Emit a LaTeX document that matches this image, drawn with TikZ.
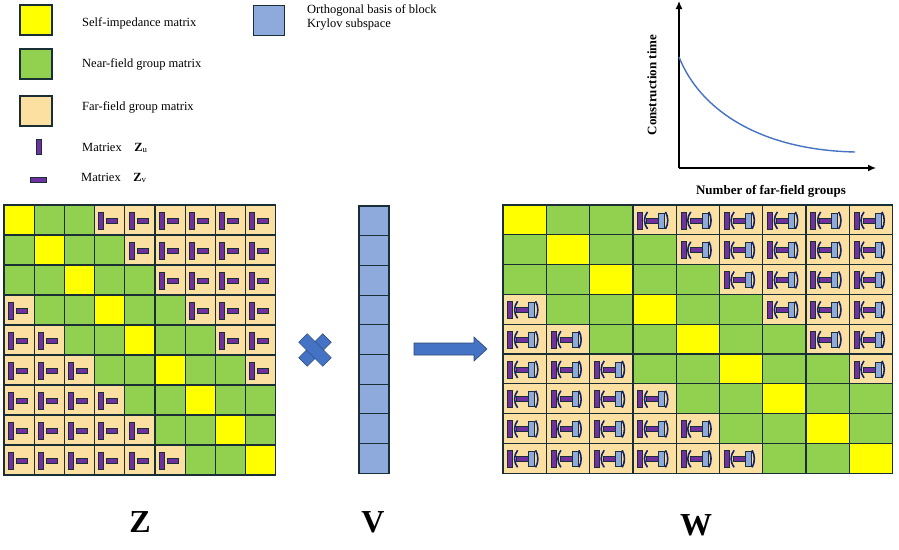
\documentclass[tikz,border=0pt]{standalone}
\usepackage{fontspec}
\setmainfont{Liberation Serif}
\usetikzlibrary{arrows.meta}
\begin{document}
\definecolor{selfc}{HTML}{FFFF00}
\definecolor{nearc}{HTML}{92D050}
\definecolor{farc}{HTML}{FBE0A2}
\definecolor{purp}{HTML}{7030A0}
\definecolor{lblue}{HTML}{8EA9DB}
\definecolor{dblue}{HTML}{4472C4}
\definecolor{edge}{HTML}{1A2E35}
\begin{tikzpicture}[x=1pt,y=-1pt,
  cell/.style={draw=edge,line width=1.3pt},
  bar/.style={fill=purp,draw=edge,line width=0.5pt},
  lbl/.style={font=\fontsize{12.5}{14}\selectfont,anchor=west,inner sep=0pt},
  big/.style={font=\fontsize{32}{34}\selectfont\bfseries},
  par/.style={draw=edge!70!blue,line width=1.6pt},
  pics/zicon/.style={code={
    \fill[bar] (-11,-8) rectangle (-6,9);
    \fill[bar] (-3,-2) rectangle (8,3);}},
  pics/wicon/.style={code={
    \fill[bar] (-17,-8) rectangle (-12,9);
    \draw[par] (-7,-8) .. controls (-11,-3) and (-11,4) .. (-7,9);
    \fill[bar] (-8,-2) rectangle (4,3);
    \fill[lblue,draw=edge,line width=0.5pt] (4,-7) rectangle (10,8);
    \draw[par] (11,-8) .. controls (14,-3) and (14,4) .. (11,9);}}]
\useasboundingbox (0,0) rectangle (899,549);
% legend
\fill[cell,fill=selfc] (20,5) rectangle (52,35);
\fill[cell,fill=nearc] (20,49) rectangle (52,79);
\fill[cell,fill=farc] (20,96) rectangle (52,126);
\fill[bar] (36,139) rectangle (41,154);
\fill[bar] (30,177) rectangle (46,182);
\fill[draw=edge,line width=1pt,fill=lblue] (253,5) rectangle (284,35);
\node[lbl] (l1) at (82,23) {Self-impedance matrix};
\node[lbl] (l2) at (82,64) {Near-field group matrix};
\node[lbl] (l3) at (82,107) {Far-field group matrix};
\node[lbl] (l4) at (82,148) {Matriex\quad $\mathbf{Z}_{\mathrm{u}}$};
\node[lbl] (l5) at (81,178) {Matriex\quad $\mathbf{Z}_{\mathrm{v}}$};
\node[lbl,align=left,anchor=north west] (l6) at (307,4) {Orthogonal basis of block\\ Krylov subspace};
% graph
\draw[line width=1.3pt,-{Latex[length=8pt,width=7pt]}] (679,168) -- (679,1);
\draw[line width=1.3pt,-{Latex[length=8pt,width=7pt]}] (679,168) -- (876,168);
\draw[line width=1.4pt,dblue] (679,57) .. controls (700,110) and (760,150) .. (855,152);
\node[font=\fontsize{13}{14}\selectfont\bfseries,rotate=90] (yl) at (652,85) {Construction time};
\node[font=\fontsize{13}{14}\selectfont\bfseries] (xl) at (771,191) {Number of far-field groups};
% Z matrix
\foreach \i in {0,...,8}{\foreach \j in {0,...,8}{
  \pgfmathtruncatemacro\d{abs(\i-\j)}
  \pgfmathsetmacro\xa{4+\j*30.2}\pgfmathsetmacro\ya{205+\i*30}
  \ifnum\d=0 \fill[cell,fill=selfc] (\xa,\ya) rectangle ++(30.2,30);
  \else\ifnum\d<3 \fill[cell,fill=nearc] (\xa,\ya) rectangle ++(30.2,30);
  \else \fill[cell,fill=farc] (\xa,\ya) rectangle ++(30.2,30);
   \pic at (\xa+15.1,\ya+15) {zicon};
  \fi\fi}}
% V
\foreach \i in {0,...,8}{\fill[draw=edge,line width=1.1pt,fill=lblue] (359,206+\i*29.7) rectangle ++(30,29.7);}
% cross
\fill[dblue,draw=edge!60!dblue,line width=0.6pt,rotate around={45:(315,350)}] (309,333) rectangle (321,367) (298,344) rectangle (332,356);
\fill[dblue,rotate around={45:(315,350)}] (309.4,333.4) rectangle (320.6,366.6);
% arrow
\fill[dblue,draw=edge!60!dblue,line width=0.6pt] (414,343) -- (474,343) -- (474,337) -- (487,349) -- (474,361) -- (474,355) -- (414,355) -- cycle;
% W matrix
\foreach \i in {0,...,8}{\foreach \j in {0,...,8}{
  \pgfmathtruncatemacro\d{abs(\i-\j)}
  \pgfmathsetmacro\xa{503+\j*43.3}\pgfmathsetmacro\ya{205+\i*29.8}
  \ifnum\d=0 \fill[cell,fill=selfc] (\xa,\ya) rectangle ++(43.3,29.8);
  \else\ifnum\d<3 \fill[cell,fill=nearc] (\xa,\ya) rectangle ++(43.3,29.8);
  \else \fill[cell,fill=farc] (\xa,\ya) rectangle ++(43.3,29.8);
   \pic at (\xa+21.6,\ya+14.9) {wicon};
  \fi\fi}}
\node[big] (Z) at (140,522) {Z};
\node[big] (V) at (373,522) {V};
\node[big] (W) at (696,525) {W};
\end{tikzpicture}
\end{document}
